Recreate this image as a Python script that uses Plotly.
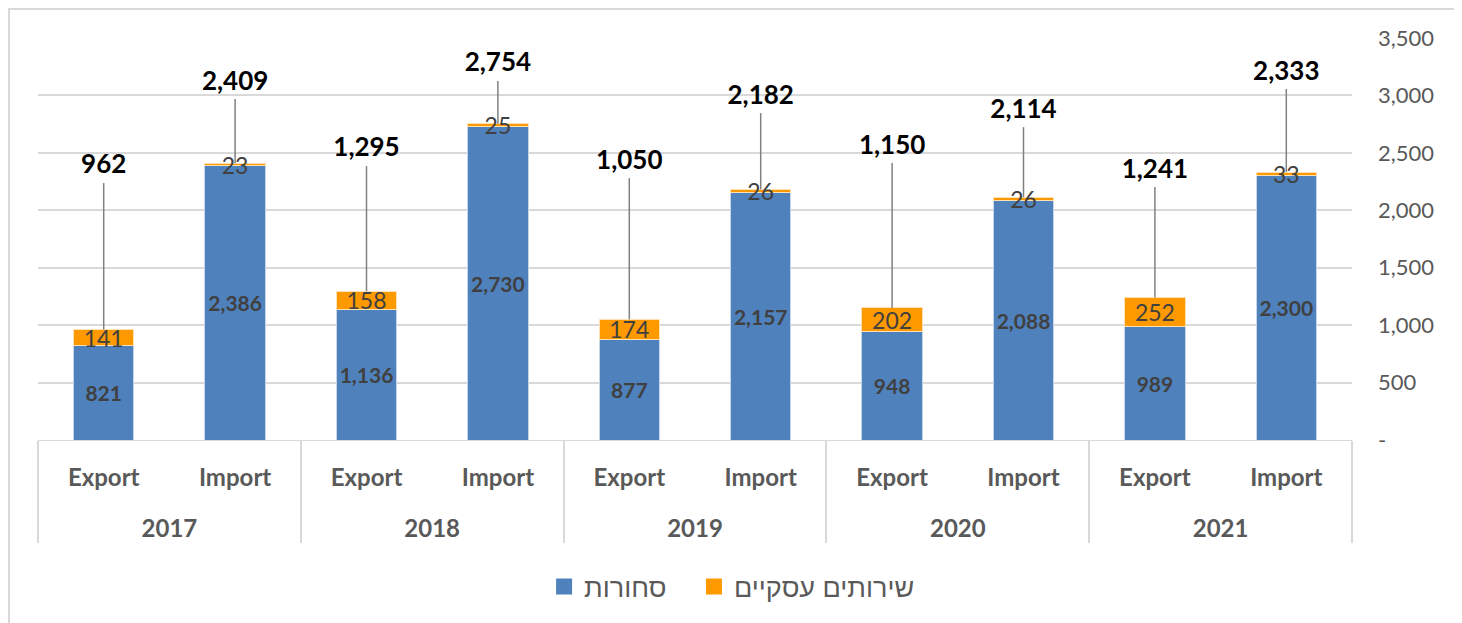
import plotly.graph_objects as go

years = ["2017", "2017", "2018", "2018", "2019", "2019", "2020", "2020", "2021", "2021"]
flows = ["Export", "Import"] * 5
goods = [821, 2386, 1136, 2730, 877, 2157, 948, 2088, 989, 2300]
services = [141, 23, 158, 25, 174, 26, 202, 26, 252, 33]
totals = [962, 2409, 1295, 2754, 1050, 2182, 1150, 2114, 1241, 2333]
# vertical placement of the total labels (manually dragged labels in the original)
label_y = [2377, 3108, 2525, 3265, 2420, 2986, 2551, 2864, 2342, 3195]
series_names = ["סחורות", "שירותים עסקיים"]

y_ticks = [0, 500, 1000, 1500, 2000, 2500, 3000, 3500]
y_ticktext = ["-", "500", "1,000", "1,500", "2,000", "2,500", "3,000", "3,500"]

BLUE = "#4F81BD"
ORANGE = "#FF9900"
GRAY = "#595959"
DARK = "#404040"
FONT = "Lato, Liberation Sans, DejaVu Sans"

W, H = 1454, 615
L, R, T, B = 30, 110, 30, 183
PW, PH = W - L - R, H - T - B

# first-level labels get an extra (blank) line to widen the gap to the year row
flow_labels = [f"{f}<br><span style='font-size:48px'>\u00a0</span>" for f in flows]
x = [years, flow_labels]

fig = go.Figure()
fig.add_trace(go.Bar(
    x=x, y=goods, name=series_names[0], showlegend=False,
    marker=dict(color=BLUE, line=dict(color="#C5D5EA", width=1)),
    text=[f"{v:,}" for v in goods], textposition="inside", insidetextanchor="middle",
    textangle=0, constraintext="none",
    textfont=dict(family=FONT, size=21, color=DARK, weight="bold"),
    hoverinfo="skip",
))
fig.add_trace(go.Bar(
    x=x, y=services, name=series_names[1], showlegend=False,
    marker=dict(color=ORANGE, line=dict(color="#FFE0B0", width=1)),
    text=[f"{v:,}" for v in services], textposition="inside", insidetextanchor="middle",
    textangle=0, constraintext="none", cliponaxis=False,
    textfont=dict(family=FONT, size=23, color=DARK),
    hoverinfo="skip",
))
# leader lines
for yr, fl, tot, ly in zip(years, flow_labels, totals, label_y):
    fig.add_trace(go.Scatter(
        x=[[yr, yr], [fl, fl]], y=[tot, ly - 140], mode="lines",
        line=dict(color="#808080", width=1.5), showlegend=False, hoverinfo="skip",
    ))
fig.add_trace(go.Scatter(
    x=x, y=label_y, mode="text", text=[f"{v:,}" for v in totals],
    textposition="middle center",
    textfont=dict(family=FONT, size=26, color="#000000", weight="bold"),
    showlegend=False, hoverinfo="skip", cliponaxis=False,
))
# legend entries with larger square swatches
for nm, col, pad in zip(series_names, [BLUE, ORANGE], ["\u00a0\u00a0\u00a0", ""]):
    fig.add_trace(go.Scatter(
        x=[[years[0]], [flow_labels[0]]], y=[None], mode="markers", name=nm + pad,
        marker=dict(symbol="square", size=17, color=col), hoverinfo="skip",
    ))

fig.update_layout(
    width=W, height=H,
    barmode="stack", bargap=0.54,
    plot_bgcolor="white", paper_bgcolor="white",
    margin=dict(l=L, r=R, t=T, b=B, autoexpand=False),
    font=dict(family=FONT, color=GRAY),
    legend=dict(orientation="h", xref="container", yref="container",
                x=0.498, xanchor="center", y=1 - 579 / H, yanchor="middle",
                font=dict(family="Liberation Sans, DejaVu Sans", size=27, color=GRAY),
                traceorder="normal", itemsizing="trace"),
    showlegend=True,
)
fig.update_xaxes(
    type="multicategory", range=[-0.5, len(goods) - 0.5], autorange=False,
    showline=True, linecolor="#D9D9D9", linewidth=1,
    tickfont=dict(family=FONT, size=24, color=GRAY, weight="bold"),
    ticklabelstandoff=16,
    showdividers=True, dividercolor="#D9D9D9", dividerwidth=1.5,
    ticks="", showgrid=False,
)
fig.update_yaxes(
    range=[0, 3500], side="right", tickvals=y_ticks, ticktext=y_ticktext,
    showgrid=True, gridcolor="#D9D9D9", gridwidth=1.5, zeroline=False,
    tickfont=dict(family=FONT, size=22, color=GRAY), ticklabelstandoff=25,
)
fig.add_shape(type="rect", xref="paper", yref="paper",
              x0=-(L - 1) / PW, x1=(1447 - L) / PW, y0=-(B + 10) / PH, y1=1 + (T - 1) / PH,
              line=dict(color="#D9D9D9", width=2), fillcolor="rgba(0,0,0,0)")

fig.write_html("out.html")
